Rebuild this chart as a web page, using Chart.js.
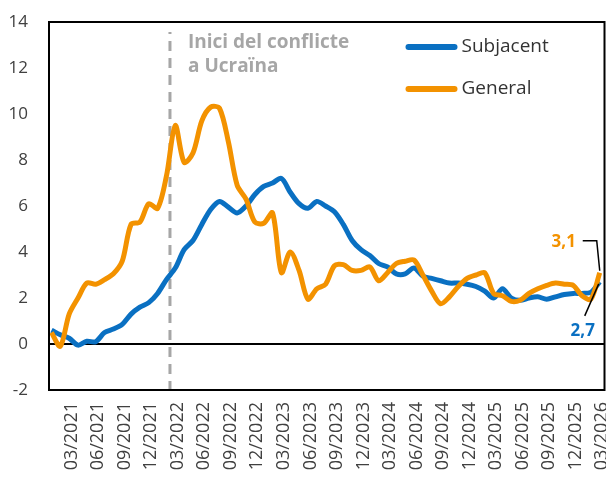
<!DOCTYPE html>
<html><head><meta charset="utf-8">
<script src="https://cdn.jsdelivr.net/npm/chart.js@4/dist/chart.umd.min.js"></script>
<style>html,body{margin:0;padding:0;background:#fff;overflow:hidden}#wrap{width:606px;height:482px}</style>
</head><body><div id="wrap"><canvas id="c" width="606" height="482"></canvas></div>
<script>
const months = [
 "01/2021","02/2021","03/2021","04/2021","05/2021","06/2021","07/2021","08/2021","09/2021","10/2021","11/2021","12/2021",
 "01/2022","02/2022","03/2022","04/2022","05/2022","06/2022","07/2022","08/2022","09/2022","10/2022","11/2022","12/2022",
 "01/2023","02/2023","03/2023","04/2023","05/2023","06/2023","07/2023","08/2023","09/2023","10/2023","11/2023","12/2023",
 "01/2024","02/2024","03/2024","04/2024","05/2024","06/2024","07/2024","08/2024","09/2024","10/2024","11/2024","12/2024",
 "01/2025","02/2025","03/2025","04/2025","05/2025","06/2025","07/2025","08/2025","09/2025","10/2025","11/2025","12/2025",
 "01/2026","02/2026","03/2026"];
const subjacent = [
 0.6,0.4,0.25,-0.05,0.12,0.1,0.5,0.65,0.85,1.3,1.6,1.8,
 2.2,2.8,3.3,4.1,4.5,5.2,5.85,6.2,5.95,5.7,6.0,6.5,
 6.85,7.0,7.2,6.6,6.1,5.9,6.2,6.0,5.75,5.2,4.5,4.1,
 3.85,3.5,3.35,3.05,3.05,3.3,2.95,2.85,2.75,2.65,2.65,2.6,
 2.5,2.3,2.0,2.4,2.0,1.9,2.0,2.05,1.95,2.05,2.15,2.2,
 2.2,2.25,2.7];
const general = [
 0.5,-0.1,1.3,2.0,2.65,2.6,2.8,3.05,3.6,5.2,5.3,6.1,
 5.9,7.3,9.5,7.9,8.3,9.7,10.3,10.25,8.8,6.9,6.3,5.3,
 5.25,5.7,3.1,4.0,3.2,1.95,2.4,2.6,3.4,3.45,3.2,3.2,
 3.35,2.75,3.1,3.5,3.6,3.65,3.0,2.3,1.75,2.05,2.5,2.85,
 3.0,3.1,2.2,2.1,1.85,1.9,2.2,2.4,2.55,2.65,2.6,2.55,
 2.1,1.95,3.1];
const seriesNames = ["Subjacent","General"];
const tickMonthPrefixes = ["03","06","09","12"];
const yMin = -2, yMax = 14, yStep = 2;
const conflictMonth = 13.4;
const conflictText = ["Inici del conflicte","a Ucraïna"];
const lastLabels = ["2,7","3,1"];

const BLUE = "#0a70c2", ORANGE = "#f39200", GREY = "#a6a6a6", TXT = "#404040";
const FONT = "'Open Sans', sans-serif";
const tickIdx = months.map((m,i)=>tickMonthPrefixes.includes(m.slice(0,2))?i:-1).filter(i=>i>=0);
const toPts = arr => arr.map((v,i)=>({x:i,y:v}));

const overlay = {
  id:"overlay",
  beforeDatasetsDraw(chart){
    const {ctx, chartArea:a, scales:{x,y}} = chart;
    ctx.save();
    const y0 = y.getPixelForValue(0);
    ctx.strokeStyle="#000"; ctx.lineWidth=2;
    ctx.beginPath(); ctx.moveTo(a.left,y0); ctx.lineTo(a.right,y0); ctx.stroke();
    const xc = x.getPixelForValue(conflictMonth);
    ctx.strokeStyle=GREY; ctx.lineWidth=3; ctx.setLineDash([10,7]);
    ctx.beginPath(); ctx.moveTo(xc,a.bottom+1); ctx.lineTo(xc,a.top+10); ctx.stroke();
    ctx.setLineDash([]);
    ctx.fillStyle=GREY; ctx.font="bold 19px "+FONT; ctx.textAlign="left"; ctx.textBaseline="alphabetic";
    ctx.fillText(conflictText[0], xc+18, a.top+26);
    ctx.fillText(conflictText[1], xc+18, a.top+50);
    ctx.restore();
  },
  afterDatasetsDraw(chart){
    const {ctx, chartArea:a} = chart;
    ctx.save();
    ctx.strokeStyle="#000"; ctx.lineWidth=2;
    ctx.strokeRect(a.left,a.top,a.right-a.left,a.bottom-a.top);
    const cols=[BLUE,ORANGE];
    seriesNames.forEach((n,i)=>{
      const ly=a.top+25+i*42;
      ctx.strokeStyle=cols[i]; ctx.lineWidth=6; ctx.lineCap="round";
      ctx.beginPath(); ctx.moveTo(a.right-196,ly); ctx.lineTo(a.right-150,ly); ctx.stroke();
      ctx.fillStyle="#333"; ctx.font="19px "+FONT; ctx.textAlign="left"; ctx.textBaseline="middle";
      ctx.fillText(n, a.right-143, ly);
    });
    ctx.lineCap="butt";
    const mb = chart.getDatasetMeta(0).data, mo = chart.getDatasetMeta(1).data;
    const pb = mb[mb.length-1], po = mo[mo.length-1];
    ctx.strokeStyle="#000"; ctx.lineWidth=1.5;
    ctx.beginPath(); ctx.moveTo(po.x-17,po.y-32); ctx.lineTo(po.x-3,po.y-32); ctx.lineTo(po.x,po.y-2); ctx.stroke();
    ctx.beginPath(); ctx.moveTo(pb.x-15,pb.y+34); ctx.lineTo(pb.x-1,pb.y+2); ctx.stroke();
    ctx.font="bold 17px "+FONT; ctx.textBaseline="middle"; ctx.textAlign="center";
    ctx.fillStyle=ORANGE; ctx.fillText(lastLabels[1], po.x-36, po.y-31);
    ctx.fillStyle=BLUE; ctx.fillText(lastLabels[0], pb.x-17, pb.y+49);
    ctx.restore();
  }
};

new Chart(document.getElementById("c"), {
  type:"line",
  data:{datasets:[
    {label:seriesNames[0], data:toPts(subjacent), borderColor:BLUE, backgroundColor:BLUE, borderWidth:5, pointRadius:0, tension:0.3, order:1},
    {label:seriesNames[1], data:toPts(general), borderColor:ORANGE, backgroundColor:ORANGE, borderWidth:5, pointRadius:0, tension:0.3, order:0}
  ]},
  options:{
    responsive:false, animation:false, devicePixelRatio:1,
    layout:{padding:{left:0, top:22, right:1.5, bottom:0}},
    plugins:{legend:{display:false}, tooltip:{enabled:false}},
    scales:{
      x:{type:"linear", min:-0.28, max:62.54,
        grid:{display:false, drawTicks:false}, border:{display:false},
        afterBuildTicks:s=>{ s.ticks = tickIdx.map(v=>({value:v})); },
        afterFit:s=>{ s.height=92; s.paddingLeft=0; s.paddingRight=0; },
        ticks:{autoSkip:false, minRotation:90, maxRotation:90, padding:12, labelOffset:2.5,
          color:TXT, font:{family:FONT, size:18}, callback:v=>months[v]}
      },
      y:{min:yMin, max:yMax,
        grid:{display:false, drawTicks:false}, border:{display:false},
        afterFit:s=>{ s.width=49; s.paddingTop=0; s.paddingBottom=0; },
        ticks:{stepSize:yStep, padding:21, color:TXT, font:{family:FONT, size:17}}
      }
    }
  },
  plugins:[overlay]
});
</script></body></html>
